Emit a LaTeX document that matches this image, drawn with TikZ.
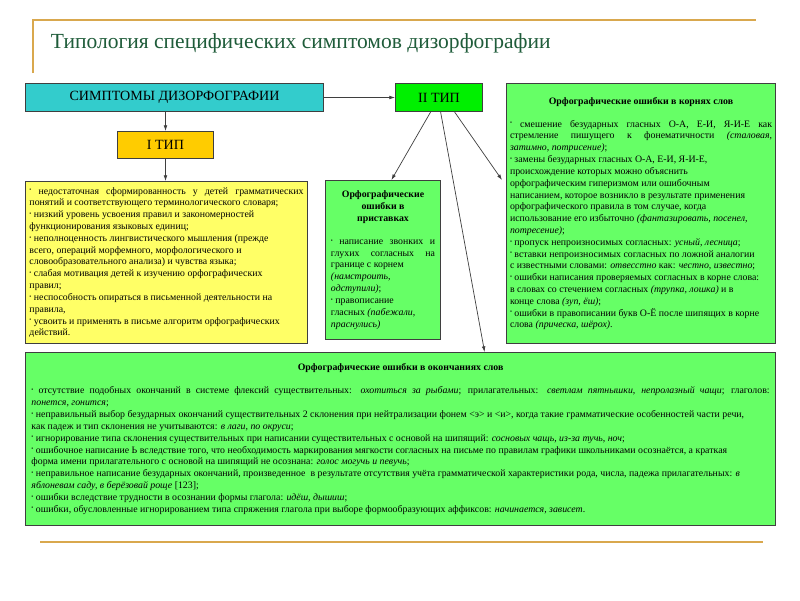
\documentclass[tikz,border=0pt]{standalone}
\usepackage{fontspec}
\setmainfont{Liberation Serif}
\usetikzlibrary{arrows.meta}
\definecolor{cyanbox}{HTML}{33CCCC}
\definecolor{typeone}{HTML}{FFCC00}
\definecolor{typetwo}{HTML}{00F000}
\definecolor{lightyel}{HTML}{FFFF66}
\definecolor{lightgrn}{HTML}{66FF66}
\definecolor{titlegrn}{HTML}{1F5C3A}
\definecolor{goldline}{HTML}{D9A84E}
\definecolor{boxedge}{HTML}{3F3F3F}
\newcommand\bul{\raisebox{1.6pt}{\fontsize{4}{4}\selectfont •}\ }
\newcommand\ex[1]{\textit{#1}}

\begin{document}
\begin{tikzpicture}[x=0.025cm,y=-0.025cm,
  box/.style={draw=boxedge,line width=0.7pt,anchor=north west,inner sep=0.08cm,
    align=justify,font=\fontsize{7}{8.4}\selectfont},
  head/.style={draw=boxedge,line width=0.7pt,anchor=north west,inner sep=0pt,
    font=\fontsize{10}{12}\selectfont},
  link/.style={draw=boxedge,line width=0.5pt,-{Latex[length=4pt,width=2.6pt]}}]
  \fill[white] (0,0) rectangle (800,600);
  \useasboundingbox (0,0) rectangle (800,600);

  % Slide frame and heading.
  \draw[goldline,line width=1.4pt] (33,73) -- (33,20) -- (756,20);
  \draw[goldline,line width=1.4pt] (40,542) -- (763,542);
  \node[anchor=west,text=titlegrn,font=\fontsize{15.3}{18}\selectfont] (title) at (46,43)
    {Типология специфических симптомов дизорфографии};

  % Upper row: the two types.
  \node[head,fill=cyanbox,minimum width=7.45cm,minimum height=0.7cm] (sym) at (25,83)
    {СИМПТОМЫ ДИЗОРФОГРАФИИ};
  \node[head,fill=typetwo,minimum width=2.175cm,minimum height=0.7cm] (t2) at (395,83)
    {II ТИП};
  \node[head,fill=typeone,minimum width=2.4cm,minimum height=0.675cm] (t1) at (117,131)
    {I ТИП};

  % Type I: causes.
  \node[box,fill=lightyel,text width=6.85cm,minimum width=7.05cm,minimum height=4.05cm] (lack) at (25,181) {%
    \bul недостаточная сформированность у детей грамматических понятий и соответствующего терминологического словаря;\par
    \raggedright
    \bul низкий уровень усвоения правил и закономерностей\\ функционирования языковых единиц;\par
    \bul неполноценность лингвистического мышления (прежде\\ всего, операций морфемного, морфологического и\\ словообразовательного анализа) и чувства языка;\par
    \bul слабая мотивация детей к изучению орфографических\\ правил;\par
    \bul неспособность опираться в письменной деятельности на\\ правила,\par
    \bul усвоить и применять в письме алгоритм орфографических\\ действий.};

  % Type II: prefixes, roots, endings.
  \node[box,fill=lightgrn,text width=2.6cm,minimum width=2.875cm,minimum height=3.975cm] (pref) at (325,180) {%
    {\centering\bfseries Орфографические\\ ошибки в\\ приставках\par}
    \vspace{8pt}
    \bul написание звонких и\linebreak глухих согласных на\linebreak границе с корнем\\ \ex{(намстроить,}\\ \ex{одступили)};\par
    {\raggedright\bul правописание\\ гласных \ex{(пабежали,}\\ \ex{праснулись)}\par}};

  \node[box,fill=lightgrn,text width=6.55cm,minimum width=6.725cm,minimum height=6.5cm] (root) at (506,83) {%
    {\centering\bfseries Орфографические ошибки в корнях слов\par}
    \vspace{8pt}
    \bul смешение безударных гласных О-А, Е-И, Я-И-Е как\linebreak стремление пишущего к фонематичности \ex{(сталовая,}\linebreak \ex{затимно, потрисение)};\par
    {\raggedright
    \bul замены безударных гласных О-А, Е-И, Я-И-Е,\\ происхождение которых можно объяснить\\ орфографическим гиперизмом или ошибочным\\ написанием, которое возникло в результате применения\\ орфографического правила в том случае, когда\\ использование его избыточно \ex{(фантазировать, посенел,}\\ \ex{потресение)};\par
    \bul пропуск непроизносимых согласных: \ex{усный, лесница};\par
    \bul вставки непроизносимых согласных по ложной аналогии\\ с известными словами: \ex{отвесстно} как: \ex{честно, известно};\par
    \bul ошибки написания проверяемых согласных в корне слова:\\ в словах со стечением согласных \ex{(трупка, лошка)} и в\\ конце слова \ex{(зуп, ёш)};\par
    \bul ошибки в правописании букв О-Ё после шипящих в корне\\ слова \ex{(прическа, шёрох)}.\par}};

  \node[box,fill=lightgrn,text width=18.45cm,minimum width=18.75cm,minimum height=4.325cm] (ends) at (25,352) {%
    {\centering\bfseries Орфографические ошибки в окончаниях слов\par}
    \vspace{8pt}
    \bul отсутствие подобных окончаний в системе флексий существительных: \ex{охотиться за рыбами}; прилагательных: \ex{светлам пятнышки, непролазный чащи}; глаголов:\linebreak \ex{понется, гонится};\par
    {\raggedright
    \bul неправильный выбор безударных окончаний существительных 2 склонения при нейтрализации фонем \textless э\textgreater{} и \textless и\textgreater, когда такие грамматические особенностей части речи,\\ как падеж и тип склонения не учитываются: \ex{в лаги, по окруси};\par
    \bul игнорирование типа склонения существительных при написании существительных с основой на шипящий: \ex{сосновых чащь, из-за тучь, ноч};\par
    \bul ошибочное написание Ь вследствие того, что необходимость маркирования мягкости согласных на письме по правилам графики школьниками осознаётся, а краткая\\ форма имени прилагательного с основой на шипящий не осознана: \ex{голос могучь и певучь};\par
    \bul неправильное написание безударных окончаний, произведенное\ \ в результате отсутствия учёта грамматической характеристики рода, числа, падежа прилагательных: \ex{в}\\ \ex{яблоневам саду, в берёзовай роще} [123];\par
    \bul ошибки вследствие трудности в осознании формы глагола: \ex{идёш, дышиш};\par
    \bul ошибки, обусловленные игнорированием типа спряжения глагола при выборе формообразующих аффиксов: \ex{начинается, зависет}.\par}};

  % Connectors.
  \coordinate (rootin) at (502,180);
  \draw[link] (sym.east) -- (t2.west);
  \draw[link] (sym.south -| t1.north) -- (t1.north);
  \draw[link] (t1.south) -- (t1.south |- lack.north);
  \draw[link] ([xshift=-0.21cm]t2.south) -- ([xshift=0.21cm]pref.north);
  \draw[link] ([xshift=0.04cm]t2.south) -- ([xshift=2.1cm]ends.north);
  \draw[link] ([xshift=0.39cm]t2.south) -- (rootin);
\end{tikzpicture}
\end{document}
